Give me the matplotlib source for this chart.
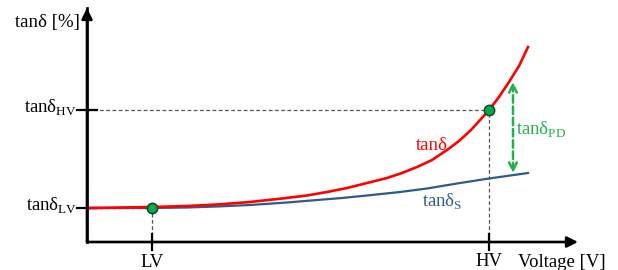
import matplotlib
matplotlib.use("Agg")
import matplotlib.pyplot as plt

plt.rcParams['font.family'] = ['Liberation Serif', 'DejaVu Serif']
plt.rcParams['mathtext.fontset'] = 'custom'
plt.rcParams['mathtext.rm'] = 'Liberation Serif'

# ---- data (schematic units) ----
voltage = [3, 65, 100, 130, 163, 195, 220, 240, 260, 280, 300, 315, 330, 345, 360, 372,
           384, 394, 402, 412, 422, 432, 441]
tan_delta = [34, 35, 36, 37.5, 40, 43.5, 46.5, 50, 54, 59, 64, 69, 75, 82, 92, 101,
             112, 123, 132, 145, 160, 176, 195]
voltage_s = [3, 65, 100, 130, 163, 200, 230, 255, 280, 313, 340, 370, 402, 441]
tan_delta_s = [34, 34, 34.5, 35.5, 37, 39.5, 42, 44, 46.5, 50, 53.5, 58.5, 63.5, 69]
LV, HV = 65, 402
tan_LV, tan_HV = 34, 132
pd_x = 426
pd_range = [69, 160]
xtick_labels = ['LV', 'HV']

fig = plt.figure(figsize=(6.18, 2.70), dpi=100)
W, H = 618, 270
ax = fig.add_axes([87 / W, 28 / H, (578 - 87) / W, (242 - 8) / H])
ax.set_xlim(0, 491)
ax.set_ylim(0, 234)
ax.axis('off')

FS = 13.5
# axes with arrows
ax.annotate('', xy=(1, 0), xytext=(0, 0), xycoords='axes fraction',
            arrowprops=dict(arrowstyle='-|>', lw=1.9, color='black', mutation_scale=16,
                            shrinkA=0, shrinkB=0))
ax.annotate('', xy=(0, 1), xytext=(0, 0), xycoords='axes fraction',
            arrowprops=dict(arrowstyle='-|>', lw=1.9, color='black', mutation_scale=16,
                            shrinkA=0, shrinkB=0))
ax.plot([0, 0], [0, 1], transform=ax.transAxes, color='black', lw=1.9, clip_on=False,
        solid_capstyle='projecting')

# guide lines
dash = dict(color='#555555', lw=0.9, ls=(0, (3, 2)), zorder=1)
ax.plot([0, HV], [tan_HV, tan_HV], **dash)
ax.plot([HV, HV], [0, tan_HV], **dash)
ax.plot([LV, LV], [0, tan_LV], **dash)
ax.plot([0, LV], [tan_LV, tan_LV], color='#333333', lw=0.9, ls=(0, (3, 2)), zorder=1)

# ticks
for xv in (LV, HV):
    ax.plot([xv, xv], [-8, 8], color='black', lw=1.6, clip_on=False)
for yv in (tan_LV, tan_HV):
    ax.plot([-10, 10], [yv, yv], color='black', lw=1.6, clip_on=False)

# curves
ax.plot(voltage_s, tan_delta_s, color='#2f5b8c', lw=1.6, zorder=3, solid_joinstyle='round')
ax.plot(voltage, tan_delta, color='#ff0000', lw=1.9, zorder=4, solid_joinstyle='round')

# points
ax.plot([LV, HV], [tan_LV, tan_HV], 'o', ms=7.5, mfc='#00a84f', mec='#1a3a1a', mew=1.0, zorder=5)

# PD arrow
ax.annotate('', xy=(pd_x, pd_range[1]), xytext=(pd_x, pd_range[0]),
            arrowprops=dict(arrowstyle='<->', lw=1.8, color='#22b14c', ls=(0, (3, 1.5)),
                            mutation_scale=14, shrinkA=0, shrinkB=0))

# texts
ax.text(-7, 219, 'tanδ [%]', ha='right', va='center', fontsize=FS, clip_on=False)
ax.text(-10, 129, r'tanδ$_{\mathregular{HV}}$', ha='right', va='baseline', fontsize=FS, clip_on=False)
ax.text(-10, 31, r'tanδ$_{\mathregular{LV}}$', ha='right', va='baseline', fontsize=FS, clip_on=False)
ax.text(LV, -25, xtick_labels[0], ha='center', va='baseline', fontsize=FS, clip_on=False)
ax.text(HV, -24, xtick_labels[1], ha='center', va='baseline', fontsize=FS, clip_on=False)
ax.text(431, -25, 'Voltage [V]', ha='left', va='baseline', fontsize=FS, clip_on=False)
ax.text(329, 92, 'tanδ', ha='left', va='baseline', fontsize=FS, color='#ff0000')
ax.text(335, 35, r'tanδ$_{\mathregular{S}}$', ha='left', va='baseline', fontsize=FS, color='#2f5b8c')
ax.text(429, 107, r'tanδ$_{\mathregular{PD}}$', ha='left', va='baseline', fontsize=FS, color='#22b14c')

fig.savefig('out.png', dpi=100)
